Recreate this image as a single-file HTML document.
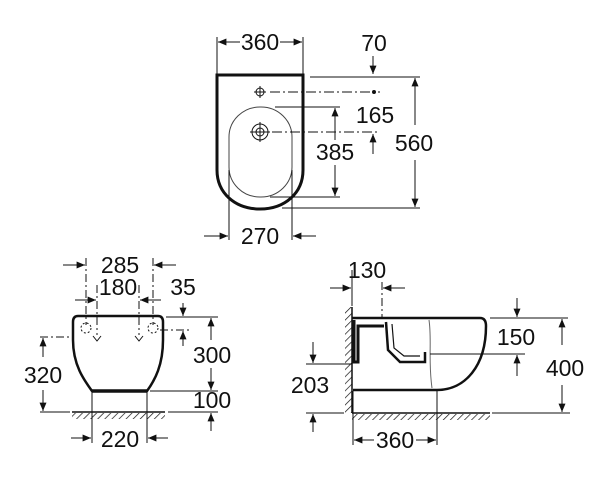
<!DOCTYPE html>
<html><head><meta charset="utf-8"><style>
html,body{margin:0;padding:0;background:#fff;}
svg{display:block;}
text{font-family:"Liberation Sans",sans-serif;font-size:23px;fill:#111;text-anchor:middle;}
</style></head><body>
<svg width="600" height="479" viewBox="0 0 600 479" xmlns="http://www.w3.org/2000/svg">
<defs>
<marker id="a" viewBox="0 0 12 10" refX="12" refY="5" markerWidth="12" markerHeight="7" markerUnits="userSpaceOnUse" orient="auto"><path d="M0,0 L12,5 L0,10 z" fill="#111"/></marker>
<pattern id="h" width="5" height="5" patternUnits="userSpaceOnUse" patternTransform="rotate(45)"><line x1="0" y1="0" x2="0" y2="5" stroke="#111" stroke-width="1.4"/></pattern>
</defs>
<g stroke="#111" stroke-width="1" fill="none">
<!-- TOP VIEW -->
<path d="M217,75 L303,75 L303,170 C303,193 285,209 260,209 C235,209 217,193 217,170 Z" stroke-width="3"/>
<rect x="229" y="107" width="63" height="90" rx="31" ry="30" stroke="#444"/>
<circle cx="260" cy="92" r="4"/><line x1="254" y1="92" x2="266" y2="92"/><line x1="260" y1="86" x2="260" y2="98"/>
<circle cx="260" cy="132" r="8"/><circle cx="260" cy="132" r="4"/><line x1="250" y1="132" x2="270" y2="132"/><line x1="260" y1="122" x2="260" y2="142"/>
<line x1="270" y1="92" x2="380" y2="92" stroke-dasharray="10,3,2,3"/>
<circle cx="374" cy="92" r="1.5" fill="#111"/>
<line x1="272" y1="132" x2="380" y2="132" stroke-dasharray="10,3,2,3"/>
<line x1="217" y1="37" x2="217" y2="74"/><line x1="303" y1="37" x2="303" y2="74"/>
<line x1="240" y1="42" x2="218" y2="42" marker-end="url(#a)"/>
<line x1="280" y1="42" x2="302" y2="42" marker-end="url(#a)"/>
<line x1="373" y1="56" x2="373" y2="74" marker-end="url(#a)"/>
<line x1="310" y1="77" x2="420" y2="77"/>
<line x1="282" y1="208" x2="420" y2="208"/>
<line x1="415" y1="125" x2="415" y2="78" marker-end="url(#a)"/>
<line x1="415" y1="160" x2="415" y2="207" marker-end="url(#a)"/>
<line x1="275" y1="107" x2="340" y2="107"/><line x1="270" y1="197" x2="340" y2="197"/>
<line x1="335" y1="140" x2="335" y2="108" marker-end="url(#a)"/>
<line x1="335" y1="165" x2="335" y2="196" marker-end="url(#a)"/>
<line x1="373" y1="154" x2="373" y2="134" marker-end="url(#a)"/>
<line x1="229" y1="170" x2="229" y2="240"/><line x1="292" y1="170" x2="292" y2="240"/>
<line x1="204" y1="236" x2="228" y2="236" marker-end="url(#a)"/>
<line x1="316" y1="236" x2="293" y2="236" marker-end="url(#a)"/>
<!-- FRONT VIEW -->
<path d="M78,316 L158,316 Q163,316 163,322 L163,340 C163,365 155,380 147,391 L92,391 C84,380 73,365 73,340 L73,322 Q73,316 78,316 Z" stroke-width="2.5"/>
<line x1="92" y1="391" x2="147" y2="391" stroke-width="3.5"/>
<circle cx="86" cy="328" r="5" stroke-dasharray="2,2"/><circle cx="153" cy="328" r="5" stroke-dasharray="2,2"/>
<path d="M93,336 L97,341 L101,336" /><path d="M135,336 L139,341 L143,336"/>
<line x1="86" y1="258" x2="86" y2="325" stroke-dasharray="8,3,2,3"/>
<line x1="153" y1="258" x2="153" y2="325" stroke-dasharray="8,3,2,3"/>
<line x1="63" y1="265" x2="85" y2="265" marker-end="url(#a)"/>
<line x1="176" y1="265" x2="154" y2="265" marker-end="url(#a)"/>
<line x1="97" y1="285" x2="97" y2="335" stroke-dasharray="8,3,2,3"/>
<line x1="139" y1="285" x2="139" y2="335" stroke-dasharray="8,3,2,3"/>
<line x1="75" y1="300" x2="96" y2="300" marker-end="url(#a)"/>
<line x1="161" y1="300" x2="140" y2="300" marker-end="url(#a)"/>
<line x1="183" y1="303" x2="183" y2="316" marker-end="url(#a)"/>
<line x1="166" y1="317" x2="218" y2="317"/>
<line x1="160" y1="330" x2="190" y2="330" stroke-dasharray="8,3,2,3"/>
<line x1="183" y1="346" x2="183" y2="331" marker-end="url(#a)"/>
<line x1="211" y1="340" x2="211" y2="318" marker-end="url(#a)"/>
<line x1="211" y1="368" x2="211" y2="390" marker-end="url(#a)"/>
<line x1="150" y1="391" x2="218" y2="391"/>
<line x1="211" y1="431" x2="211" y2="413" marker-end="url(#a)"/>
<line x1="40" y1="412" x2="70" y2="412"/><line x1="168" y1="412" x2="218" y2="412"/>
<line x1="72" y1="412" x2="165" y2="412" stroke-width="1.5"/>
<rect x="72" y="413" width="93" height="6" fill="url(#h)" stroke="none"/>
<line x1="40" y1="337" x2="74" y2="337" stroke-dasharray="8,3,2,3"/>
<line x1="43" y1="357" x2="43" y2="338" marker-end="url(#a)"/>
<line x1="43" y1="390" x2="43" y2="411" marker-end="url(#a)"/>
<line x1="92" y1="392" x2="92" y2="443"/><line x1="147" y1="392" x2="147" y2="443"/>
<line x1="71" y1="438" x2="91" y2="438" marker-end="url(#a)"/>
<line x1="168" y1="438" x2="148" y2="438" marker-end="url(#a)"/>
<!-- SIDE VIEW -->
<line x1="352" y1="307" x2="352" y2="413" stroke-width="1.5"/>
<rect x="345" y="307" width="7" height="106" fill="url(#h)" stroke="none"/>
<line x1="352" y1="413" x2="490" y2="413" stroke-width="1.5"/>
<rect x="352" y="414" width="138" height="6" fill="url(#h)" stroke="none"/>
<path d="M352,318 L480,318 Q486,318 486,326 C486,366 465,390 437,390 L353,390" stroke-width="2.5"/>
<path d="M354,320 L354,362 L358,362 L358,326 L384,326" stroke-width="3"/>
<path d="M386,322 L388,350 L400,362 L425,362 L425,352" stroke-width="2.5"/>
<path d="M392,324 L394,348 L404,356 L420,356" stroke-width="1.2"/>
<path d="M429,320 C432,340 428,360 432,388" stroke="#666"/>
<line x1="352" y1="270" x2="352" y2="306"/>
<line x1="382" y1="282" x2="382" y2="318" stroke-dasharray="8,3,2,3"/>
<line x1="330" y1="288" x2="351" y2="288" marker-end="url(#a)"/>
<line x1="405" y1="288" x2="383" y2="288" marker-end="url(#a)"/>
<line x1="490" y1="318" x2="568" y2="318"/>
<line x1="430" y1="354" x2="525" y2="354"/>
<line x1="517" y1="298" x2="517" y2="317" marker-end="url(#a)"/>
<line x1="517" y1="376" x2="517" y2="355" marker-end="url(#a)"/>
<line x1="562" y1="345" x2="562" y2="319" marker-end="url(#a)"/>
<line x1="562" y1="385" x2="562" y2="412" marker-end="url(#a)"/>
<line x1="492" y1="413" x2="570" y2="413"/>
<line x1="306" y1="364" x2="352" y2="364"/>
<line x1="306" y1="413" x2="344" y2="413"/>
<line x1="313" y1="342" x2="313" y2="363" marker-end="url(#a)"/>
<line x1="313" y1="432" x2="313" y2="414" marker-end="url(#a)"/>
<line x1="353" y1="391" x2="353" y2="445"/><line x1="437" y1="391" x2="437" y2="445"/>
<line x1="374" y1="440" x2="354" y2="440" marker-end="url(#a)"/>
<line x1="416" y1="440" x2="436" y2="440" marker-end="url(#a)"/>
</g>
<g>
<text x="260" y="50">360</text>
<text x="374" y="51">70</text>
<text x="375" y="123">165</text>
<text x="335" y="160">385</text>
<text x="414" y="151">560</text>
<text x="260" y="244">270</text>
<text x="120" y="273">285</text>
<text x="118" y="295">180</text>
<text x="183" y="295">35</text>
<text x="212" y="363">300</text>
<text x="212" y="408">100</text>
<text x="43" y="383">320</text>
<text x="120" y="447">220</text>
<text x="367" y="278">130</text>
<text x="516" y="345">150</text>
<text x="565" y="376">400</text>
<text x="310" y="393">203</text>
<text x="395" y="448">360</text>
</g>
</svg>
</body></html>
